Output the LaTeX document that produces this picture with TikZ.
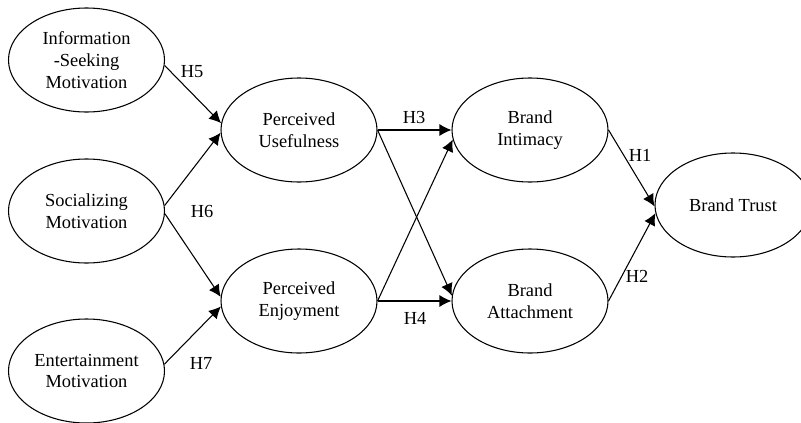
\documentclass[tikz,border=0pt]{standalone}
\usepackage{fontspec}
\setmainfont{Liberation Serif}
\usetikzlibrary{shapes.geometric, arrows.meta}

\begin{document}
\begin{tikzpicture}[x=0.75pt,y=-0.75pt,
		construct/.style={draw, ellipse, line width=0.8pt, minimum width=117pt, minimum height=78pt, inner sep=0pt, align=center, font=\fontsize{13.8}{16.4}\selectfont},
		hyp/.style={line width=0.8pt, -{Latex[length=9pt,width=9pt]}},
		hlabel/.style={inner sep=0pt, font=\fontsize{13.8}{16.4}\selectfont}]
		\useasboundingbox (0,0) rectangle (801,422);
		% motivations
		\node[construct] (info) at (86.5,60) {Information\\-Seeking\\Motivation};
		\node[construct] (soc) at (86.5,211) {Socializing\\Motivation};
		\node[construct] (ent) at (86.5,371) {Entertainment\\Motivation};
		% perceptions
		\node[construct] (pu) at (299,130) {Perceived\\Usefulness};
		\node[construct] (pe) at (299,301) {Perceived\\Enjoyment};
		% brand
		\node[construct] (bi) at (530,130) {Brand\\Intimacy};
		\node[construct] (ba) at (530,301) {Brand\\Attachment};
		\node[construct] (bt) at (733,205) {Brand Trust};
		% paths
		\draw[hyp] (info.-4) -- (pu.175);
		\draw[hyp] (soc.4) -- (pu.182);
		\draw[hyp] (soc.-2) -- (pe.177);
		\draw[hyp] (ent.5) -- (pe.184);
		\draw[hyp] (pu.east) -- (bi.west);
		\draw[hyp] (pu.east) -- (ba.176);
		\draw[hyp] (pe.east) -- (bi.187);
		\draw[hyp] (pe.east) -- (ba.west);
		\draw[hyp] (bi.east) -- (bt.181);
		\draw[hyp] (ba.east) -- (bt.186);
		% hypotheses
		\node[hlabel] (h5) at (192,72) {H5};
		\node[hlabel] (h6) at (202,211) {H6};
		\node[hlabel] (h7) at (201,363) {H7};
		\node[hlabel] (h3) at (414,117) {H3};
		\node[hlabel] (h4) at (415,318) {H4};
		\node[hlabel] (h1) at (640,155) {H1};
		\node[hlabel] (h2) at (637,276) {H2};
	\end{tikzpicture}
\end{document}
